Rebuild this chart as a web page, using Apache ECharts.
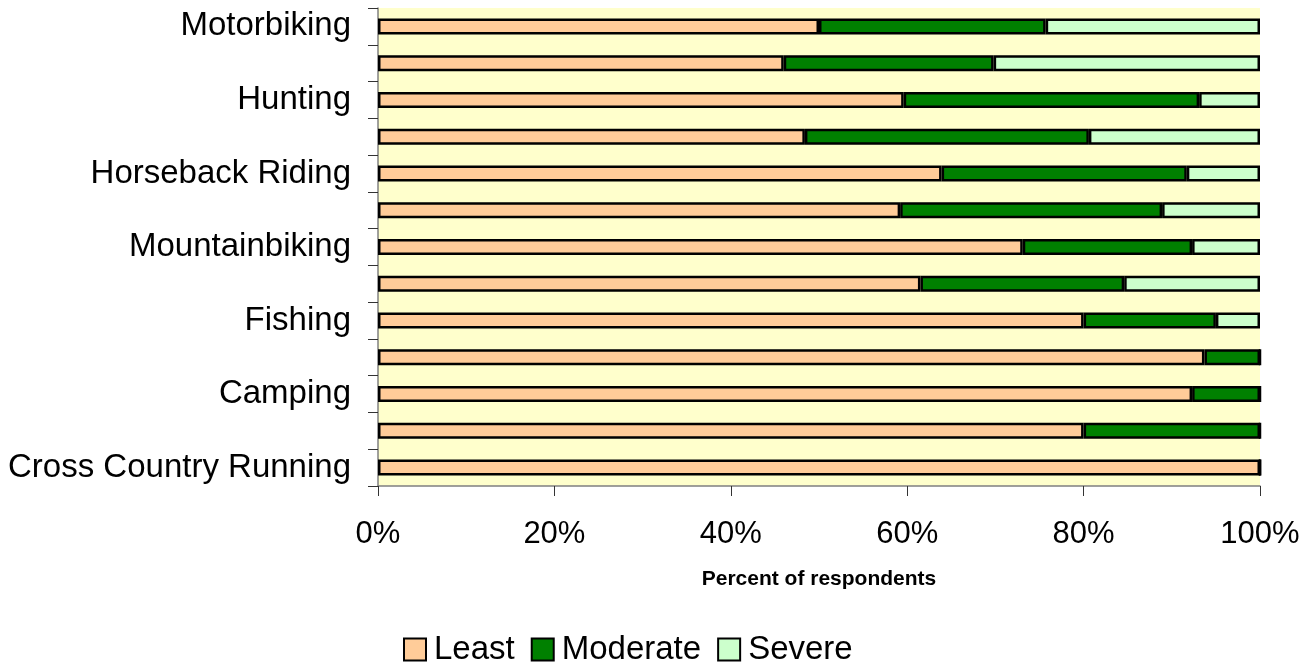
<!DOCTYPE html>
<html>
<head>
<meta charset="utf-8">
<script src="https://cdn.jsdelivr.net/npm/echarts@6/dist/echarts.min.js"></script>
<style>
html,body{margin:0;padding:0;background:#fff;}
#chart{width:1314px;height:664px;}
</style>
</head>
<body>
<div id="chart"></div>
<script>
// Categories from bottom to top (every other label is hidden in the original)
const categories = [
  "Cross Country Running", "(unlabeled 1)", "Camping", "(unlabeled 2)",
  "Fishing", "(unlabeled 3)", "Mountainbiking", "(unlabeled 4)",
  "Horseback Riding", "(unlabeled 5)", "Hunting", "(unlabeled 6)", "Motorbiking"
];
const least    = [100, 80.0, 92.3, 93.7, 80.0, 61.5, 73.1, 59.2, 63.9, 48.4, 59.6, 46.0, 50.0];
const moderate = [0,   20.0, 7.7,  6.3,  15.0, 23.1, 19.2, 29.7, 27.8, 32.2, 33.5, 23.8, 25.7];
const severe   = [0,   0,    0,    0,    5.0,  15.4, 7.7,  11.1, 8.3,  19.4, 6.9,  30.2, 24.3];
const seriesNames = ["Least", "Moderate", "Severe"];
const xTicks = [0, 20, 40, 60, 80, 100];
const xTitle = "Percent of respondents";

const font = '"Liberation Sans", Arial, sans-serif';
const colors = ["#FFCC99", "#008000", "#CCFFCC"];
const values = [least, moderate, severe];

const chart = echarts.init(document.getElementById('chart'), null, {renderer: 'canvas'});
chart.setOption({
  animation: false,
  textStyle: {fontFamily: font},
  grid: {left: 378, right: 54, top: 8, bottom: 178, show: true, backgroundColor: '#FFFFCC', borderWidth: 0},
  legend: {
    data: seriesNames,
    left: 398, top: 628,
    icon: 'rect', itemWidth: 22, itemHeight: 22, itemGap: 16,
    textStyle: {fontFamily: font, fontSize: 33, color: '#000', padding: [0, 0, 0, 3]},
    itemStyle: {borderColor: '#000', borderWidth: 2}
  },
  xAxis: {
    type: 'value', min: xTicks[0], max: xTicks[xTicks.length - 1], interval: 20,
    name: xTitle, nameLocation: 'middle', nameGap: 83,
    nameTextStyle: {fontFamily: font, fontSize: 21, fontWeight: 'bold', color: '#000'},
    axisLine: {show: true, lineStyle: {color: '#808080', width: 1.5}},
    axisTick: {show: true, length: 10, lineStyle: {color: '#333', width: 1}},
    axisLabel: {formatter: '{value}%', fontSize: 31, color: '#000', margin: 33, fontFamily: font},
    splitLine: {show: false}
  },
  yAxis: {
    type: 'category', data: categories,
    axisLine: {show: true, lineStyle: {color: '#808080', width: 1.5}},
    axisTick: {show: true, length: 10, interval: 0, lineStyle: {color: '#333', width: 1}},
    axisLabel: {interval: 1, fontSize: 33, color: '#000', margin: 27, fontFamily: font},
    splitLine: {show: false}
  },
  series: seriesNames.map((n, i) => ({
    name: n, type: 'bar', stack: 'total', data: values[i],
    barWidth: 16,
    itemStyle: {color: colors[i], borderColor: '#000', borderWidth: 2.5}
  }))
});
</script>
</body>
</html>
